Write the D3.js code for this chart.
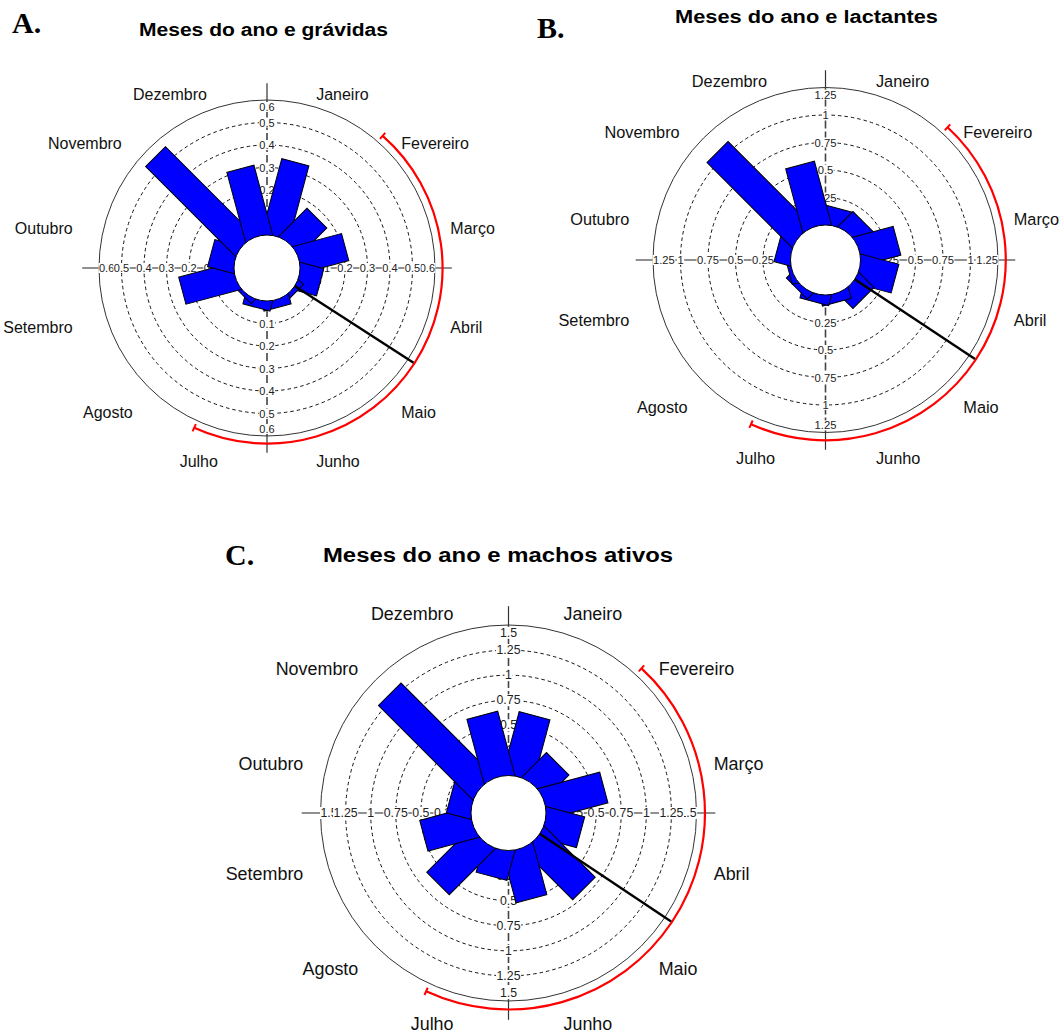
<!DOCTYPE html>
<html>
<head>
<meta charset="utf-8">
<script src="https://cdn.jsdelivr.net/npm/d3@7"></script>
<style>
  html, body { margin: 0; padding: 0; background: #fff; }
  svg { display: block; }
</style>
</head>
<body>
<svg id="chart" width="1064" height="1035"></svg>
<script>
// Month names, clockwise from the top
const months = ["Janeiro", "Fevereiro", "Março", "Abril", "Maio", "Junho",
                "Julho", "Agosto", "Setembro", "Outubro", "Novembro", "Dezembro"];

// Proportion of records per month
const gravidas     = [0.34, 0.167, 0.213, 0.098, 0.02, 0.035, 0.035, 0.015, 0.243, 0.11, 0.554, 0.31];
const lactantes    = [0.164, 0.17, 0.355, 0.336, 0.17, 0.08, 0.075, 0.05, 0.03, 0.13, 1.07, 0.576];
const machosAtivos = [0.63, 0.32, 0.61, 0.37, 0.69, 0.51, 0.28, 0.62, 0.50, 0.225, 1.30, 0.635];

// Radial tick values for each rose
const ticksGravidas  = [0.1, 0.2, 0.3, 0.4, 0.5, 0.6];
const ticksLactantes = [0.25, 0.5, 0.75, 1, 1.25];
const ticksMachos    = [0.25, 0.5, 0.75, 1, 1.25, 1.5];

// Mean direction (degrees clockwise from north) and its confidence interval
const meanDirection = [122.9, 123.5, 123.7];
const ciLower       = [41.2, 42.6, 42.6];
const ciUpper       = [204.5, 204.4, 204.8];

const titles = ["Meses do ano e grávidas", "Meses do ano e lactantes", "Meses do ano e machos ativos"];
const letters = ["A.", "B.", "C."];

// Layout of the three panels
const panels = [
  { values: gravidas, ticks: ticksGravidas, cx: 267, cy: 268, r0: 33, outer: 168, s: 1.0,
    leftPad: 11, labelDy: 10,
    title: { x: 139, y: 36, w: 249 }, letter: { x: 12, y: 33 } },
  { values: lactantes, ticks: ticksLactantes, cx: 825.5, cy: 260, r0: 35, outer: 172.5, s: 1.02,
    leftPad: 8, labelDy: 9.5,
    title: { x: 675, y: 23, w: 263 }, letter: { x: 537, y: 38 } },
  { values: machosAtivos, ticks: ticksMachos, cx: 508.5, cy: 813, r0: 37.5, outer: 188, s: 1.12,
    leftPad: 0, labelDy: 6,
    title: { x: 323, y: 562, w: 350 }, letter: { x: 225, y: 565 } }
];

const svg = d3.select("#chart");
const rad = d => d * Math.PI / 180;
const fmt = v => String(+v.toFixed(2));
const SANS = "'Liberation Sans', Arial, sans-serif";

panels.forEach((p, idx) => {
  const maxTick = p.ticks[p.ticks.length - 1];
  const r = d3.scaleLinear().domain([0, maxTick]).range([p.r0, p.outer]);
  const barW = 0.85 * p.r0;
  const ext = p.outer * 1.1;
  const g = svg.append("g").attr("transform", `translate(${p.cx},${p.cy})`);

  // dashed reference rings
  g.selectAll("circle.ring").data(p.ticks.slice(0, -1)).join("circle")
    .attr("class", "ring").attr("r", d => r(d))
    .attr("fill", "none").attr("stroke", "#111").attr("stroke-width", 1)
    .attr("stroke-dasharray", "3.5,3");

  // outer circle
  g.append("circle").attr("r", r(maxTick))
    .attr("fill", "none").attr("stroke", "#333").attr("stroke-width", 1);

  // cross axes
  g.append("line").attr("x1", -ext).attr("x2", ext).attr("y1", 0).attr("y2", 0)
    .attr("stroke", "#222").attr("stroke-width", 1.2);
  g.append("line").attr("x1", 0).attr("x2", 0).attr("y1", -r(maxTick)).attr("y2", r(maxTick))
    .attr("stroke", "#444").attr("stroke-width", 1.6).attr("stroke-dasharray", "8,3");
  [[-ext, -r(maxTick)], [r(maxTick), ext]].forEach(([a, b]) => {
    g.append("line").attr("x1", 0).attr("x2", 0).attr("y1", a).attr("y2", b)
      .attr("stroke", "#333").attr("stroke-width", 1.2);
  });

  // tick labels on the four half-axes, each on a white plate
  const tickFont = 11 * p.s;
  const labels = g.append("g")
    .attr("font-family", SANS).attr("font-size", tickFont).attr("fill", "#222")
    .attr("text-anchor", "middle").attr("dominant-baseline", "central");
  const inset = 7 * p.s;
  const addLabel = (x, y, v) => {
    const lg = labels.append("g");
    const t = lg.append("text").attr("x", x).attr("y", y).text(fmt(v));
    const b = t.node().getBBox();
    lg.insert("rect", "text")
      .attr("x", b.x - 0.5).attr("y", b.y + 1).attr("width", b.width + 1).attr("height", b.height - 2)
      .attr("fill", "#fff");
    return t;
  };
  p.ticks.slice().reverse().forEach(v => {
    const isMax = v === maxTick;
    const rr = r(v);
    const rv = isMax ? rr - inset : rr;
    addLabel(0, -rv, v);
    addLabel(0, rv, v);
    [-1, 1].forEach(sg => {
      const probe = labels.append("text").text(fmt(v));
      const half = probe.node().getComputedTextLength() / 2;
      probe.remove();
      addLabel(sg * (isMax ? rr - half : rr), 0, v);
    });
  });

  // bars, one per month, drawn as rectangles pointing outward
  g.append("g").selectAll("rect").data(p.values).join("rect")
    .attr("transform", (d, i) => `rotate(${15 + 30 * i})`)
    .attr("x", -barW / 2).attr("width", barW)
    .attr("y", d => -r(d)).attr("height", d => r(d))
    .attr("fill", "#0000ff").attr("stroke", "#000").attr("stroke-width", 1);

  // inner blank circle
  g.append("circle").attr("r", p.r0).attr("fill", "#fff")
    .attr("stroke", "#000").attr("stroke-width", 1);

  // confidence arc for the mean direction
  const arcR = p.outer * 1.045;
  const path = d3.path();
  path.arc(0, 0, arcR, rad(ciLower[idx] - 90), rad(ciUpper[idx] - 90), false);
  g.append("path").attr("d", path.toString())
    .attr("fill", "none").attr("stroke", "#ff0000").attr("stroke-width", 2.2);
  [ciLower[idx], ciUpper[idx]].forEach(a => {
    const sx = Math.sin(rad(a)), sy = -Math.cos(rad(a));
    g.append("line")
      .attr("x1", sx * (arcR - 4)).attr("y1", sy * (arcR - 4))
      .attr("x2", sx * (arcR + 4)).attr("y2", sy * (arcR + 4))
      .attr("stroke", "#ff0000").attr("stroke-width", 2);
  });

  // mean direction line
  const m = meanDirection[idx];
  const mx = Math.sin(rad(m)), my = -Math.cos(rad(m));
  g.append("line")
    .attr("x1", mx * p.r0).attr("y1", my * p.r0)
    .attr("x2", mx * (arcR - 1)).attr("y2", my * (arcR - 1))
    .attr("stroke", "#000").attr("stroke-width", 2.4);

  // month names around the rose
  const Rl = p.outer * 1.13;
  const ang = i => 15 + 30 * i;
  g.append("g")
    .attr("font-family", SANS).attr("font-size", 16 * p.s).attr("fill", "#111")
    .selectAll("text").data(months).join("text")
    .attr("x", (d, i) => Rl * Math.sin(rad(ang(i))) - (ang(i) >= 250 ? p.leftPad : 0))
    .attr("y", (d, i) => -Rl * Math.cos(rad(ang(i))) + p.labelDy)
    .attr("dominant-baseline", "central")
    .attr("text-anchor", (d, i) => Math.sin(rad(ang(i))) > 0 ? "start" : "end")
    .text(d => d);

  // title and panel letter
  svg.append("text")
    .attr("x", p.title.x).attr("y", p.title.y)
    .attr("font-family", SANS)
    .attr("font-weight", "bold").attr("font-size", 17.5 * p.s)
    .attr("textLength", p.title.w).attr("lengthAdjust", "spacingAndGlyphs")
    .attr("fill", "#000").text(titles[idx]);
  svg.append("text")
    .attr("x", p.letter.x).attr("y", p.letter.y)
    .attr("font-family", "'Liberation Serif', 'Times New Roman', serif")
    .attr("font-weight", "bold").attr("font-size", 30)
    .attr("fill", "#000").text(letters[idx]);
});
</script>
</body>
</html>
